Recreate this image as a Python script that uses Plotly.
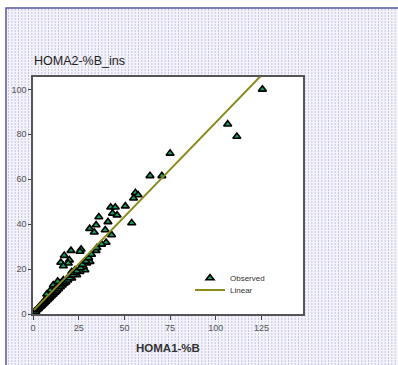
import plotly.graph_objects as go

# Observed points (HOMA1-%B, HOMA2-%B_ins)
obs_x = [125.5, 106.5, 111.5, 75, 70.5, 64, 56, 57.5, 55, 50.5, 54, 42.5, 45, 43.5, 46, 36, 41,
         34.5, 31, 33.5, 39.5, 43, 40, 34.5, 26.3, 25.7, 20.8, 17.1, 15.2, 19.9, 19.3, 16.6, 30.3,
         29.4, 31.2, 28.4, 25.7, 23.9, 21.2, 16.6, 14.8, 11.1, 12.9, 27.5, 23, 21.2,
         1, 1.5, 2, 2.5, 3, 3, 3.5, 4, 4, 4.5, 5, 5, 5.5, 6, 6, 6.5, 7, 7, 7.5, 8, 8, 8.5, 9, 9,
         9.5, 10, 10, 10.5, 11, 11, 11.5, 12, 12, 12.5, 13, 13.5, 14, 14.5, 15, 15.5, 16, 16.5,
         17, 18, 18.5, 19, 20, 20.5, 22, 22.5, 24, 26, 27, 29, 30.5, 32, 35, 37.5, 13.5, 9.5, 7.5]
obs_y = [100, 84.5, 79, 71.5, 61.5, 61.5, 54, 53, 51.5, 48, 40.5, 47.5, 47.5, 44.8, 44, 43.2, 41,
         39.6, 38, 36.4, 37.4, 35.2, 31.8, 28.2, 28.8, 27.8, 28.2, 26, 22.9, 24, 22.6, 21.4, 24.8,
         22.6, 23.3, 19.6, 18.8, 17.4, 15.9, 15.1, 13.7, 12.9, 10.7, 21.1, 19.6, 18.8,
         1.2, 1, 1.8, 2.2, 2.4, 2.9, 3, 3.2, 3.8, 3.6, 4, 4.6, 4.5, 4.8, 5.6, 5.3, 5.6, 6.6, 6.2,
         6.4, 7.4, 7, 7.2, 8.4, 7.8, 8, 9.4, 8.6, 8.8, 10.2, 9.4, 9.6, 11.2, 10.2, 10.4, 11.8,
         11.2, 12.6, 12, 13.5, 12.8, 14.2, 13.6, 14.2, 15.6, 15, 16, 17.2, 17.5, 18.5, 19, 20.5,
         22, 23.5, 25, 26.5, 29.5, 31, 14.5, 10.5, 8.8]

# Linear fit
fit_intercept = 1.3
fit_slope = 0.84
fit_x = [0.5, 126]
fit_y = [fit_intercept + fit_slope * v for v in fit_x]

x_ticks = [0, 25, 50, 75, 100, 125]
y_ticks = [0, 20, 40, 60, 80, 100]

W, H = 398, 365
L, R, T, B = 33, 303, 77, 314
pw, ph = R - L, B - T

def px(p):
    return (p - L) / pw

def py(p):
    return (B - p) / ph

fig = go.Figure()
fig.add_trace(go.Scatter(
    x=obs_x, y=obs_y, mode="markers", name="Observed", legend="legend",
    marker=dict(symbol="triangle-up", size=7, color="#13a05e",
                line=dict(color="#000000", width=1.6)),
))
fig.add_trace(go.Scatter(
    x=fit_x, y=fit_y, mode="lines", name="Linear", legend="legend2",
    line=dict(color="#8a8a1e", width=2),
))

# background: frame + dotted texture + white plot area
shapes = [
    dict(type="rect", xref="paper", yref="paper", layer="below",
         x0=px(6), x1=px(W + 5), y0=py(H + 5), y1=py(8),
         fillcolor="#f3f3f9", line=dict(color="#5555a0", width=1.5)),
]
xp = 8.5
while xp < W:
    shapes.append(dict(type="line", xref="paper", yref="paper", layer="below",
                       x0=px(xp), x1=px(xp), y0=py(H), y1=py(9),
                       line=dict(color="#c6c6e4", width=1, dash="2px,1px")))
    xp += 10.0 / 3.0
shapes.append(dict(type="rect", xref="paper", yref="paper", layer="below",
                   x0=0, x1=1, y0=0, y1=1, fillcolor="#ffffff", line=dict(width=0)))

fig.update_layout(
    width=W, height=H,
    margin=dict(l=L, r=W - R, t=T, b=H - B),
    paper_bgcolor="#ffffff", plot_bgcolor="#ffffff",
    font=dict(family="Liberation Sans, Arial, sans-serif", size=9, color="#555555"),
    shapes=shapes,
    showlegend=True,
    legend=dict(x=px(190), y=py(278), xanchor="left", yanchor="middle",
                bgcolor="rgba(0,0,0,0)", font=dict(size=8, color="#333333"),
                itemwidth=30),
    legend2=dict(x=px(190), y=py(290), xanchor="left", yanchor="middle",
                 bgcolor="rgba(0,0,0,0)", font=dict(size=8, color="#333333"),
                 itemwidth=30),
    annotations=[
        dict(text="HOMA2-%B_ins", xref="paper", yref="paper", x=px(32), y=py(70),
             xanchor="left", yanchor="bottom", showarrow=False,
             font=dict(size=12.5, color="#222222")),
        dict(text="<b>HOMA1-%B</b>", xref="paper", yref="paper", x=px(168), y=py(348),
             xanchor="center", yanchor="middle", showarrow=False,
             font=dict(size=11.5, color="#333333")),
    ],
)
fig.update_xaxes(range=[0, 147.7], tickvals=x_ticks, ticks="outside", ticklen=4,
                 tickcolor="#444444", showgrid=False, zeroline=False,
                 showline=True, linecolor="#555555", linewidth=1.5, mirror=True,
                 tickfont=dict(size=9, color="#555555"))
fig.update_yaxes(range=[0, 105.5], tickvals=y_ticks, ticks="outside", ticklen=3,
                 tickcolor="#444444", showgrid=False, zeroline=False,
                 showline=True, linecolor="#555555", linewidth=1.5, mirror=True,
                 tickfont=dict(size=9, color="#555555"))

fig.write_html("out.html")
